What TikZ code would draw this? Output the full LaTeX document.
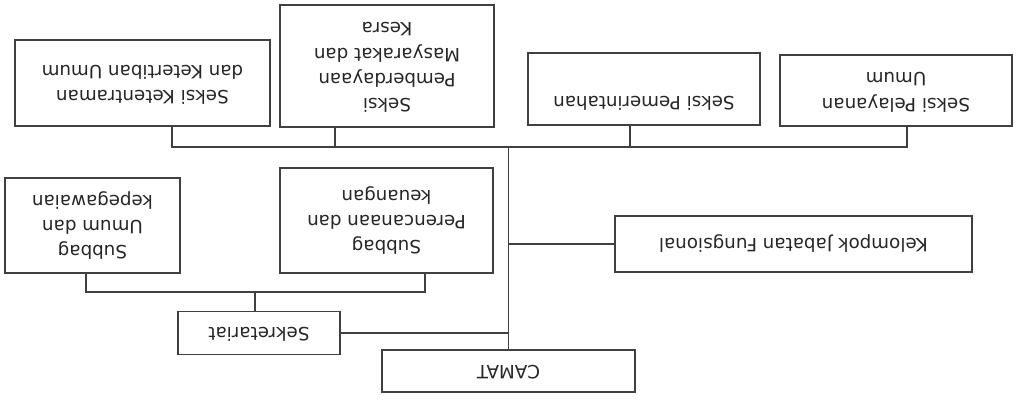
\documentclass[tikz,border=0pt]{standalone}
\usepackage{fontspec}
\usepackage{graphicx}
\usepackage{tikz}
\usetikzlibrary{positioning}
\newfontfamily\orgfont{DejaVu Sans}
% text of the scan is printed upside down
\newcommand{\updown}[1]{\rotatebox[origin=c]{180}{\begin{tabular}{@{}c@{}}#1\end{tabular}}}

\begin{document}
\begin{tikzpicture}[
    x=0.025cm, y=-0.025cm,
    unitbox/.style={rectangle, draw=black!75, line width=1.1pt, align=center, inner sep=0pt, text=black!85, font=\orgfont\fontsize{13}{18}\selectfont},
    link/.style={draw=black!75, line width=1.1pt}
]
\useasboundingbox (0,0) rectangle (1021,404);

% Top row
\node[unitbox, minimum width=6.375cm, minimum height=2.15cm] (ketentraman) at (142.5,83) {\updown{Seksi Ketentraman\\dan Ketertiban Umum}};
\node[unitbox, minimum width=5.35cm, minimum height=3.05cm] (pemberdayaan) at (387,66) {\updown{Seksi\\Pemberdayaan\\Masyarakat dan\\Kesra}};
\node[unitbox, minimum width=5.8cm, minimum height=1.8cm] (pemerintahan) at (644,89) {\updown{Seksi Pemerintahan\\ \mbox{}}};
\node[unitbox, minimum width=5.8cm, minimum height=1.78cm] (pelayanan) at (896,90.5) {\updown{Seksi Pelayanan\\Umum}};

% Middle
\node[unitbox, minimum width=4.375cm, minimum height=2.375cm] (umum) at (92.5,225.5) {\updown{Subbag\\Umum dan\\kepegawaian}};
\node[unitbox, minimum width=5.325cm, minimum height=2.625cm] (perencanaan) at (386.5,220.5) {\updown{Subbag\\Perencanaan dan\\keuangan}};
\node[unitbox, minimum width=8.925cm, minimum height=1.4cm] (kelompok) at (793.5,244) {\updown{Kelompok Jabatan Fungsional}};

% Bottom
\node[unitbox, minimum width=4.05cm, minimum height=1.075cm] (sekretariat) at (259,333) {\updown{Sekretariat}};
\node[unitbox, minimum width=6.325cm, minimum height=1.05cm] (camat) at (508.5,371) {\updown{CAMAT}};

% Bus lines
\coordinate (bus) at (508.5,147);
\coordinate (d1) at (172,147);
\coordinate (d2) at (335,147);
\coordinate (d3) at (630,147);
\coordinate (d4) at (907,147);
\coordinate (sub) at (255,292);
\coordinate (d5) at (86,292);
\coordinate (d6) at (425,292);

% Edges
\draw[link] (camat.north) -- (bus);
\draw[link] (d1 |- ketentraman.south) -- (d1) -- (d4) -- (d4 |- pelayanan.south);
\draw[link] (d2 |- pemberdayaan.south) -- (d2);
\draw[link] (d3 |- pemerintahan.south) -- (d3);
\draw[link] (kelompok.west) -- (kelompok.west -| bus);
\draw[link] (sekretariat.east) -- (sekretariat.east -| bus);
\draw[link] (d5 |- umum.south) -- (d5) -- (d6) -- (d6 |- perencanaan.south);
\draw[link] (sub) -- (sub |- sekretariat.north);

\end{tikzpicture}
\end{document}
